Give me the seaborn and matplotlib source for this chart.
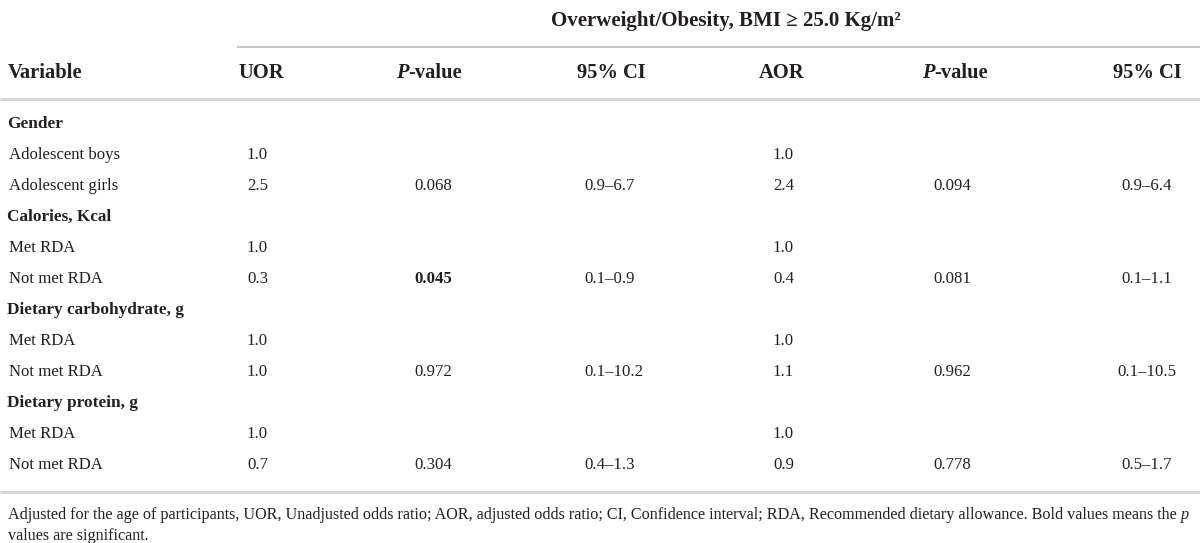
import pandas as pd
import matplotlib
matplotlib.use("Agg")
import matplotlib.pyplot as plt
import seaborn as sns

# table content
variables = ["Gender", "Adolescent boys", "Adolescent girls",
             "Calories, Kcal", "Met RDA", "Not met RDA",
             "Dietary carbohydrate, g", "Met RDA", "Not met RDA",
             "Dietary protein, g", "Met RDA", "Not met RDA"]
is_group = [True, False, False, True, False, False,
            True, False, False, True, False, False]
uor = ["", "1.0", "2.5", "", "1.0", "0.3", "", "1.0", "1.0", "", "1.0", "0.7"]
p_uor = ["", "", "0.068", "", "", "0.045", "", "", "0.972", "", "", "0.304"]
ci_uor = ["", "", "0.9–6.7", "", "", "0.1–0.9", "", "", "0.1–10.2", "", "", "0.4–1.3"]
aor = ["", "1.0", "2.4", "", "1.0", "0.4", "", "1.0", "1.1", "", "1.0", "0.9"]
p_aor = ["", "", "0.094", "", "", "0.081", "", "", "0.962", "", "", "0.778"]
ci_aor = ["", "", "0.9–6.4", "", "", "0.1–1.1", "", "", "0.1–10.5", "", "", "0.5–1.7"]
significant = ["0.045"]

title = "Overweight/Obesity, BMI ≥ 25.0 Kg/m²"
footnote1 = ("Adjusted for the age of participants, UOR, Unadjusted odds ratio; AOR, adjusted odds ratio; "
             "CI, Confidence interval; RDA, Recommended dietary allowance. Bold values means the ")
footnote2 = "values are significant."

df = pd.DataFrame({"Variable": variables, "UOR": uor, "P1": p_uor, "CI1": ci_uor,
                   "AOR": aor, "P2": p_aor, "CI2": ci_aor, "group": is_group})


def main():
    sns.set_theme(style="white")
    plt.rcParams['font.family'] = ['Liberation Serif', 'DejaVu Serif']
    ink = "#231f20"
    rule = "#d4d4d4"

    fig = plt.figure(figsize=(12, 5.43), dpi=100)
    ax = fig.add_axes([0, 0, 1, 1])
    ax.set_xlim(0, 1200)
    ax.set_ylim(543, 0)
    ax.axis('off')

    head_fs = 14.8
    body_fs = 12.1

    # spanning header
    ax.text(726, 21, title, ha='center', va='center', fontsize=15,
            fontweight='bold', color=ink)
    ax.hlines(47, 237, 1200, color="#c4c4c4", lw=1.4)

    # column headers
    y_head = 73
    ax.text(8, y_head, "Variable", ha='left', va='center', fontsize=head_fs,
            fontweight='bold', color=ink)
    ax.text(261, y_head, "UOR", ha='center', va='center', fontsize=head_fs,
            fontweight='bold', color=ink)
    ax.text(611, y_head, "95% CI", ha='center', va='center', fontsize=head_fs,
            fontweight='bold', color=ink)
    ax.text(782, y_head, "AOR", ha='center', va='center', fontsize=head_fs,
            fontweight='bold', color=ink)
    ax.text(1182, y_head, "95% CI", ha='right', va='center', fontsize=head_fs,
            fontweight='bold', color=ink)
    for x0 in [396, 922]:
        t = ax.text(x0, y_head, "P", ha='left', va='center', fontsize=head_fs,
                    fontweight='bold', fontstyle='italic', color=ink)
        ax.annotate("-value", xy=(1, 0), xycoords=t, ha='left', va='bottom',
                    fontsize=head_fs, fontweight='bold', color=ink)
    ax.hlines(99, 0, 1200, color=rule, lw=2.2)

    # body rows
    cols = [("UOR", 247, 'left'), ("P1", 414, 'left'), ("CI1", 584, 'left'),
            ("AOR", 773, 'left'), ("P2", 933, 'left'), ("CI2", 1147, 'center')]
    y0, dy = 124, 31
    for i, row in df.iterrows():
        y = y0 + i * dy
        if row["group"]:
            ax.text(7, y, row["Variable"], ha='left', va='center', fontsize=body_fs + 0.3,
                    fontweight='bold', color=ink)
        else:
            ax.text(9, y, row["Variable"], ha='left', va='center', fontsize=body_fs,
                    color=ink)
        for key, x, align in cols:
            val = row[key]
            if val == "":
                continue
            weight = 'bold' if (key.startswith("P") and val in significant) else 'normal'
            ax.text(x, y, val, ha=align, va='center', fontsize=body_fs,
                    fontweight=weight, color=ink)

    ax.hlines(492, 0, 1200, color=rule, lw=2.2)

    # footnote
    foot_fs = 11.6
    t = ax.text(8, 515, footnote1, ha='left', va='center', fontsize=foot_fs, color=ink)
    ax.annotate("p", xy=(1, 0), xycoords=t, ha='left', va='bottom',
                fontsize=foot_fs, fontstyle='italic', color=ink)
    ax.text(8, 536, footnote2, ha='left', va='center', fontsize=foot_fs, color=ink)

    fig.savefig("out.png", dpi=100, facecolor='white')


if __name__ == "__main__":
    main()
